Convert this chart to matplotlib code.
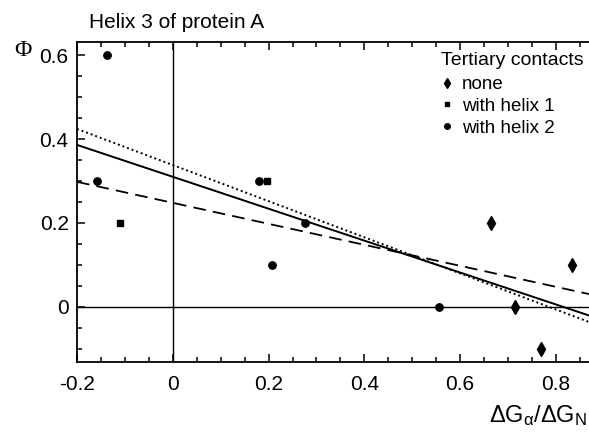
import matplotlib
matplotlib.use("Agg")
import matplotlib.pyplot as plt
import numpy as np
from matplotlib.lines import Line2D
from matplotlib.ticker import MultipleLocator, FixedLocator

plt.rcParams['font.family'] = ['Liberation Sans', 'DejaVu Sans']
plt.rcParams['mathtext.fontset'] = 'custom'
plt.rcParams['mathtext.rm'] = 'Liberation Sans'
plt.rcParams['mathtext.it'] = 'Liberation Sans:italic'

# Data
none_x = [0.665, 0.833, 0.714, 0.768]
none_y = [0.2, 0.1, 0.0, -0.1]
h1_x = [0.197, -0.11]
h1_y = [0.3, 0.2]
h2_x = [-0.138, -0.159, 0.18, 0.208, 0.277, 0.556]
h2_y = [0.6, 0.3, 0.3, 0.1, 0.2, 0.0]

# Fit lines: (intercept, slope)
fit_solid = (0.31, -0.38)
fit_dotted = (0.338, -0.43)
fit_dashed = (0.248, -0.25)

xticks = [-0.2, 0, 0.2, 0.4, 0.6, 0.8]
xticklabels = ['-0.2', '0', '0.2', '0.4', '0.6', '0.8']
yticks = [0, 0.2, 0.4, 0.6]
yticklabels = ['0', '0.2', '0.4', '0.6']

fig = plt.figure(figsize=(5.89, 4.32), dpi=100)
ax = fig.add_axes([77/589, 70/432, 1 - 77/589, 320/432])
xmin, xmax = -0.2, 0.869
ymin, ymax = -0.131, 0.631
ax.set_xlim(xmin, xmax)
ax.set_ylim(ymin, ymax)

ax.axhline(0, color='black', lw=1.0)
ax.axvline(0, color='black', lw=1.0)

xs = np.array([xmin, xmax])
ax.plot(xs, fit_solid[0] + fit_solid[1] * xs, color='black', lw=1.4, ls='-')
ax.plot(xs, fit_dotted[0] + fit_dotted[1] * xs, color='black', lw=1.4, ls=(0, (1, 1.5)))
ax.plot(xs, fit_dashed[0] + fit_dashed[1] * xs, color='black', lw=1.3, ls=(0, (7, 4)))

ax.plot(none_x, none_y, 'd', color='black', ms=7, clip_on=False)
ax.plot(h1_x, h1_y, 's', color='black', ms=4.5)
ax.plot(h2_x, h2_y, 'o', color='black', ms=5.3)

ax.xaxis.set_major_locator(FixedLocator(xticks))
ax.set_xticklabels(xticklabels)
ax.yaxis.set_major_locator(FixedLocator(yticks))
ax.set_yticklabels(yticklabels)
ax.xaxis.set_minor_locator(MultipleLocator(0.05))
ax.yaxis.set_minor_locator(MultipleLocator(0.05))
ax.tick_params(which='both', direction='in', top=True, right=False, labelsize=15, width=1.1)
ax.tick_params(which='major', length=6)
ax.tick_params(which='minor', length=3.5)
ax.tick_params(axis='x', pad=9)
ax.tick_params(axis='y', pad=6)
for s in ['left', 'bottom', 'top']:
    ax.spines[s].set_linewidth(1.3)
ax.spines['right'].set_visible(False)

handles = [
    Line2D([], [], marker='d', color='black', ls='none', ms=5.5),
    Line2D([], [], marker='s', color='black', ls='none', ms=3.5),
    Line2D([], [], marker='o', color='black', ls='none', ms=4),
]
leg = ax.legend(handles, ['none', 'with helix 1', 'with helix 2'], title='Tertiary contacts',
                loc='upper left', bbox_to_anchor=(441/589, 1 - 52/432), bbox_transform=fig.transFigure,
                frameon=False, fontsize=13.5, title_fontsize=14, handlelength=0.6,
                handletextpad=0.5, labelspacing=0.25, borderpad=0, borderaxespad=0,
                alignment='left')
leg._legend_box.sep = 5

fig.text(89/589, 1 - 22/432, 'Helix 3 of protein A', fontsize=15, va='center', ha='left')
fig.text(14/589, 1 - 50/432, 'Φ', fontsize=17, va='center', ha='left', family='Liberation Serif')
fig.text(587/589, 1 - 416/432, r'$\mathrm{\Delta G_{\alpha} / \Delta G_{N}}$', fontsize=17,
         va='center', ha='right')

fig.savefig('out.png', dpi=100)
